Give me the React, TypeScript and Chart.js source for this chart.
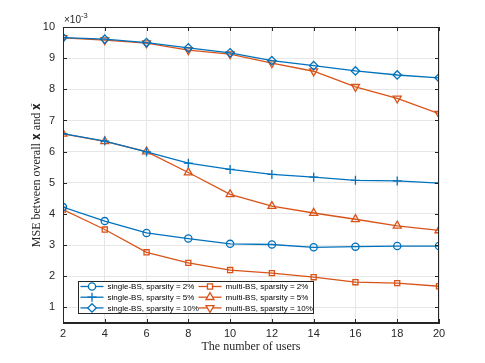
import React, { useEffect, useRef } from 'react';
import { Chart, registerables } from 'chart.js';
import { drawPoint } from 'chart.js/helpers';
Chart.register(...registerables);

// Number of users (x axis)
const users = [2, 4, 6, 8, 10, 12, 14, 16, 18, 20];
// MSE values, in units of 1e-3
const singleBS2 = [4.22, 3.77, 3.39, 3.21, 3.04, 3.02, 2.93, 2.95, 2.97, 2.97];
const singleBS5 = [6.58, 6.34, 5.99, 5.63, 5.43, 5.27, 5.18, 5.08, 5.06, 4.99];
const singleBS10 = [9.66, 9.61, 9.5, 9.33, 9.17, 8.92, 8.76, 8.59, 8.46, 8.37];
const multiBS2 = [4.14, 3.5, 2.77, 2.43, 2.2, 2.1, 1.97, 1.81, 1.78, 1.68];
const multiBS5 = [6.57, 6.33, 6.0, 5.33, 4.63, 4.25, 4.03, 3.83, 3.62, 3.47];
const multiBS10 = [9.65, 9.58, 9.48, 9.26, 9.13, 8.84, 8.58, 8.08, 7.71, 7.22];

const xTicks = [2, 4, 6, 8, 10, 12, 14, 16, 18, 20];
const yTicks = [1, 2, 3, 4, 5, 6, 7, 8, 9, 10];
const xMin = 2, xMax = 20, yMin = 0.5, yMax = 10;

const seriesLabels = [
  'single-BS, sparsity = 2%',
  'single-BS, sparsity = 5%',
  'single-BS, sparsity = 10%',
  'multi-BS, sparsity = 2%',
  'multi-BS, sparsity = 5%',
  'multi-BS, sparsity = 10%',
];

const BLUE = '#0072BD';
const ORANGE = '#D95319';
const AX = '#262626';

const styles = [
  { color: BLUE, pointStyle: 'circle', radius: 3.6, rotation: 0 },
  { color: BLUE, pointStyle: 'cross', radius: 4.5, rotation: 0 },
  { color: BLUE, pointStyle: 'rectRot', radius: 4.2, rotation: 0 },
  { color: ORANGE, pointStyle: 'rect', radius: 3.6, rotation: 0 },
  { color: ORANGE, pointStyle: 'triangle', radius: 4.6, rotation: 0 },
  { color: ORANGE, pointStyle: 'triangle', radius: 4.6, rotation: 180 },
];

const seriesValues = [singleBS2, singleBS5, singleBS10, multiBS2, multiBS5, multiBS10];

const framePlugin = {
  id: 'frame',
  afterDatasetsDraw(chart: any) {
    const { ctx, chartArea: a, scales } = chart;
    ctx.save();
    // frame
    ctx.strokeStyle = AX;
    ctx.lineWidth = 1;
    ctx.strokeRect(Math.round(a.left) + 0.5, Math.round(a.top) + 0.5, Math.round(a.right - a.left) - 1, Math.round(a.bottom - a.top) - 1);
    // inward ticks
    const tl = 4;
    ctx.beginPath();
    xTicks.forEach((v) => {
      const x = Math.round(scales.x.getPixelForValue(v)) + 0.5;
      ctx.moveTo(x, a.bottom); ctx.lineTo(x, a.bottom - tl);
      ctx.moveTo(x, a.top); ctx.lineTo(x, a.top + tl);
    });
    yTicks.forEach((v) => {
      const y = Math.round(scales.y.getPixelForValue(v)) + 0.5;
      ctx.moveTo(a.left, y); ctx.lineTo(a.left + tl, y);
      ctx.moveTo(a.right, y); ctx.lineTo(a.right - tl, y);
    });
    ctx.stroke();
    // exponent label
    ctx.fillStyle = AX;
    ctx.textBaseline = 'alphabetic';
    ctx.textAlign = 'left';
    ctx.font = '10px "Liberation Sans", Arial, sans-serif';
    ctx.fillText('\u00d710', a.left + 1, a.top - 4);
    const w = ctx.measureText('\u00d710').width;
    ctx.font = '7.5px "Liberation Sans", Arial, sans-serif';
    ctx.fillText('-3', a.left + 1 + w, a.top - 9);

    // legend
    const bx = a.left + 15.5, by = a.bottom - 41.5, bw = 235, bh = 32;
    ctx.fillStyle = '#ffffff';
    ctx.fillRect(bx, by, bw, bh);
    ctx.strokeStyle = AX;
    ctx.lineWidth = 1;
    ctx.strokeRect(bx, by, bw, bh);
    ctx.font = '8px "Liberation Sans", Arial, sans-serif';
    ctx.textBaseline = 'middle';
    seriesLabels.forEach((lab, i) => {
      const col = Math.floor(i / 3), row = i % 3;
      const lx = col === 0 ? bx + 2 : bx + 120;
      const ly = by + 5 + row * 10.7;
      const st = styles[i];
      ctx.strokeStyle = st.color;
      ctx.lineWidth = 1.3;
      ctx.beginPath();
      ctx.moveTo(lx, ly); ctx.lineTo(lx + 23, ly);
      ctx.stroke();
      ctx.fillStyle = '#ffffff';
      drawPoint(ctx, { pointStyle: st.pointStyle as any, radius: st.radius, rotation: st.rotation, borderWidth: 1.3 } as any, lx + 11.5, ly);
      ctx.fillStyle = '#000';
      ctx.fillText(lab, lx + 27, ly + 0.5);
    });
    ctx.restore();
  },
};

export default function App() {
  const ref = useRef<HTMLCanvasElement | null>(null);
  useEffect(() => {
    document.body.style.margin = '0';
    const datasets = seriesValues.map((vals, i) => ({
      label: seriesLabels[i],
      data: users.map((u, j) => ({ x: u, y: vals[j] })),
      borderColor: styles[i].color,
      backgroundColor: 'transparent',
      pointBackgroundColor: 'transparent',
      pointBorderColor: styles[i].color,
      pointStyle: styles[i].pointStyle as any,
      pointRadius: styles[i].radius,
      pointRotation: styles[i].rotation,
      pointBorderWidth: 1.3,
      borderWidth: 1.3,
      tension: 0,
    }));
    const chart = new Chart(ref.current as HTMLCanvasElement, {
      type: 'line',
      data: { datasets },
      options: {
        responsive: false,
        animation: false,
        layout: { padding: { top: 27, right: 46, left: 0, bottom: 0 } },
        plugins: { legend: { display: false }, tooltip: { enabled: false } },
        scales: {
          x: {
            type: 'linear', min: xMin, max: xMax,
            afterBuildTicks: (s: any) => { s.ticks = xTicks.map((v) => ({ value: v })); },
            afterFit: (s: any) => { s.height = 40; },
            grid: { color: '#e6e6e6', drawTicks: false },
            border: { color: AX },
            ticks: { padding: 4, autoSkip: false, maxRotation: 0, color: AX, font: { family: '"Liberation Sans", Arial, sans-serif', size: 11 } },
            title: { display: true, text: 'The number of users', color: AX, font: { family: '"Liberation Serif", "DejaVu Serif", serif', size: 12 }, padding: { top: 0, bottom: 9 } },
          },
          y: {
            type: 'linear', min: yMin, max: yMax,
            afterBuildTicks: (s: any) => { s.ticks = yTicks.map((v) => ({ value: v })); },
            afterFit: (s: any) => { s.width = 63; },
            grid: { color: '#e6e6e6', drawTicks: false },
            border: { color: AX },
            ticks: { padding: 8, color: AX, font: { family: '"Liberation Sans", Arial, sans-serif', size: 11 } },
            title: { display: true, text: 'MSE between overall \u{1D431} and \u{1D431}\u0302', color: AX, font: { family: '"Liberation Serif", "DejaVu Serif", serif', size: 12 }, padding: { top: 30, bottom: 0 } },
          },
        },
      },
      plugins: [framePlugin],
    });
    return () => chart.destroy();
  }, []);
  return <canvas ref={ref} width={485} height={363} style={{ display: 'block' }} />;
}
